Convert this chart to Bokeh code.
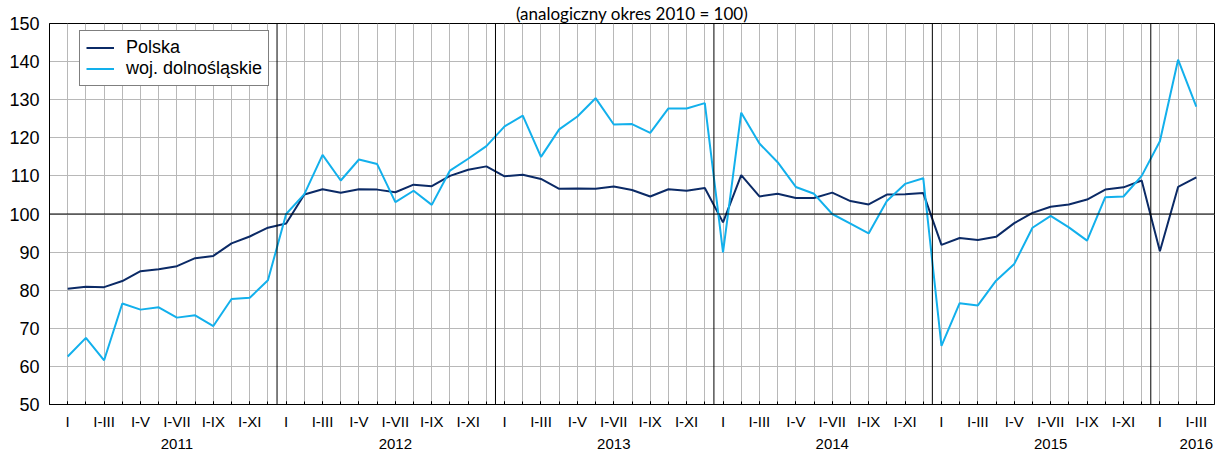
import numpy as np
from bokeh.plotting import figure
from bokeh.models import FixedTicker, Span, Legend, LegendItem
from bokeh.embed import file_html
from bokeh.resources import INLINE

years = [2011, 2012, 2013, 2014, 2015, 2016]
month_labels = ["I", "I-III", "I-V", "I-VII", "I-IX", "I-XI"]
title_text = "(analogiczny okres 2010 = 100)"
series_names = ["Polska", "woj. dolnośląskie"]

polska = [
    80.4, 80.9, 80.8, 82.4, 85.0, 85.5, 86.3, 88.4, 89.0, 92.3, 94.1, 96.4,
    97.5, 105.1, 106.5, 105.6, 106.5, 106.4, 105.7, 107.7, 107.3, 110.0, 111.6, 112.5,
    109.9, 110.3, 109.2, 106.6, 106.7, 106.6, 107.2, 106.3, 104.6, 106.5, 106.1, 106.8,
    97.8, 110.2, 104.6, 105.3, 104.2, 104.2, 105.6, 103.4, 102.5, 105.1, 105.2, 105.5,
    91.9, 93.7, 93.2, 94.0, 97.6, 100.3, 101.9, 102.5, 103.8, 106.4, 107.0, 108.8,
    90.2, 107.1, 109.6,
]
dolnoslaskie = [
    62.6, 67.5, 61.6, 76.5, 74.9, 75.5, 72.8, 73.4, 70.6, 77.7, 78.0, 82.6,
    100.0, 105.2, 115.5, 108.8, 114.3, 113.1, 103.1, 106.1, 102.4, 111.4, 114.5, 117.8,
    123.0, 125.8, 115.0, 122.2, 125.6, 130.4, 123.5, 123.6, 121.3, 127.7, 127.7, 129.1,
    89.9, 126.6, 118.5, 113.6, 107.1, 105.3, 100.0, 97.5, 94.9, 103.4, 107.9, 109.4,
    65.4, 76.6, 76.0, 82.5, 86.9, 96.4, 99.5, 96.5, 93.0, 104.4, 104.6, 110.0,
    119.1, 140.5, 128.2,
]

n = len(polska)
x = list(range(n))

# tick labels every 2 months; the year sits under I-VII (or the last label of a partial year)
label_pos = []
overrides = {}
for yi, yr in enumerate(years):
    pos_in_year = [yi * 12 + m for m in range(0, 12, 2) if yi * 12 + m < n]
    year_at = yi * 12 + 6 if yi * 12 + 6 < n else pos_in_year[-1]
    for k, pos in enumerate(pos_in_year):
        label_pos.append(pos)
        txt = month_labels[k]
        if pos == year_at:
            txt = txt + "\n" + str(yr)
        overrides[pos] = txt

W, H = 1215, 454
p = figure(width=W, height=H, output_backend="svg", toolbar_location=None,
           x_range=(-1, n), y_range=(50, 150),
           min_border_left=49, min_border_right=1, min_border_top=19, min_border_bottom=44)
p.background_fill_color = "white"
p.border_fill_color = "white"
p.outline_line_color = "black"
p.outline_line_width = 1

# title (sits in the narrow band above the frame)
p.title.text = title_text
p.title.align = "center"
p.title.offset = -16
p.title.standoff = 0
p.title.text_font = "Lato"
p.title.text_font_size = "17px"
p.title.text_font_style = "normal"
p.title.text_color = "black"
p.title.text_line_height = 1.0

# grids
p.xgrid.ticker = FixedTicker(ticks=x)
p.xgrid.grid_line_color = "#b8b8b8"
p.xgrid.grid_line_width = 1
yt = list(range(50, 151, 10))
p.ygrid.ticker = FixedTicker(ticks=yt)
p.ygrid.grid_line_color = "#b8b8b8"
p.ygrid.grid_line_width = 1

# axes
xa = p.xaxis[0]
xa.ticker = FixedTicker(ticks=label_pos, minor_ticks=x)
xa.major_label_overrides = overrides
xa.major_label_text_font = "Liberation Sans"
xa.major_label_text_font_size = "15px"
xa.major_label_text_line_height = 1.3
xa.major_label_text_color = "black"
xa.major_label_standoff = 8
xa.major_tick_in = 3
xa.major_tick_out = 0
xa.minor_tick_in = 3
xa.minor_tick_out = 0
xa.major_tick_line_color = "black"
xa.minor_tick_line_color = "black"
xa.axis_line_color = "black"

ya = p.yaxis[0]
ya.ticker = FixedTicker(ticks=yt)
ya.major_label_text_font = "Liberation Sans"
ya.major_label_text_font_size = "18px"
ya.major_label_text_color = "black"
ya.major_label_standoff = 10
ya.major_tick_in = 0
ya.major_tick_out = 0
ya.minor_tick_line_color = None
ya.axis_line_color = "black"

# year separators and the 100 line
for yi in range(1, len(years)):
    p.add_layout(Span(location=yi * 12 - 0.5, dimension="height",
                      line_color="black", line_width=1))
p.add_layout(Span(location=100, dimension="width", line_color="black", line_width=1))

r1 = p.line(x, polska, line_color="#0b2a66", line_width=2)
r2 = p.line(x, dolnoslaskie, line_color="#12b0ec", line_width=2)

frame_h = H - 19 - 44
legend = Legend(items=[LegendItem(label=series_names[0], renderers=[r1]),
                       LegendItem(label=series_names[1], renderers=[r2])],
                location=(30, frame_h - 24 - 49))
legend.label_text_font = "Liberation Sans"
legend.label_text_font_size = "18px"
legend.label_text_color = "black"
legend.border_line_color = "black"
legend.border_line_width = 1
legend.background_fill_color = "white"
legend.background_fill_alpha = 1
legend.padding = 6
legend.spacing = 0
legend.margin = 0
legend.glyph_width = 28
legend.glyph_height = 19
legend.label_height = 19
legend.label_standoff = 12
p.add_layout(legend)

open("out.html", "w").write(file_html(p, INLINE))
